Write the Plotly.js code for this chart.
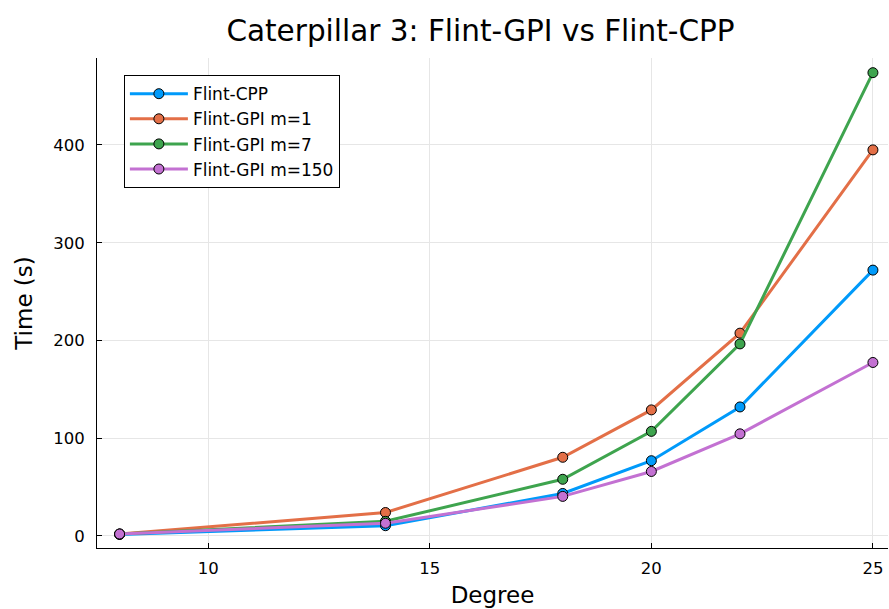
<!DOCTYPE html>
<html>
<head>
<meta charset="utf-8">
<script src="https://cdn.plot.ly/plotly-3.0.1.min.js"></script>
<style>html,body{margin:0;padding:0;background:#fff;}</style>
</head>
<body>
<div id="chart" style="width:889px;height:609px;"></div>
<script>
const degree = [8, 14, 18, 20, 22, 25];
const flintCPP = [1.5, 10.5, 43.5, 77, 132, 272];
const gpiM1 = [2, 24, 80.5, 129, 207.5, 395];
const gpiM7 = [2, 15, 58, 107, 196.5, 474];
const gpiM150 = [2, 13, 40.5, 66, 104.5, 177.5];
const seriesNames = ["Flint-CPP", "Flint-GPI m=1", "Flint-GPI m=7", "Flint-GPI m=150"];
const seriesColors = ["#009AFA", "#E36F47", "#3EA44E", "#C371D2"];
const seriesValues = [flintCPP, gpiM1, gpiM7, gpiM150];
const xTicks = [10, 15, 20, 25];
const yTicks = [0, 100, 200, 300, 400];

const font = "DejaVu Sans";
const traces = seriesValues.map((vals, i) => ({
  x: degree, y: vals, name: seriesNames[i], type: "scatter", mode: "lines+markers",
  line: {color: seriesColors[i], width: 3},
  marker: {color: seriesColors[i], size: 10, line: {color: "#000", width: 1}}
}));

const layout = {
  width: 889, height: 609,
  margin: {l: 97, r: 1, t: 58, b: 61},
  paper_bgcolor: "#fff", plot_bgcolor: "#fff",
  font: {family: font, color: "#000"},
  title: {text: "Caterpillar 3: Flint-GPI vs Flint-CPP", font: {size: 29.5, family: font}, x: 0.5405, xanchor: "center", y: 0.949, yanchor: "middle"},
  xaxis: {
    title: {text: "Degree", font: {size: 23, family: font}, standoff: 10},
    range: [7.49, 25.34], tickvals: xTicks, ticktext: xTicks.map(String),
    ticks: "inside", ticklen: 5, tickcolor: "#000", tickfont: {size: 16.5, family: font},
    ticklabelstandoff: 5,
    showgrid: true, gridcolor: "#e6e6e6", gridwidth: 1,
    showline: true, linecolor: "#000", linewidth: 1, mirror: false, zeroline: false
  },
  yaxis: {
    title: {text: "Time (s)", font: {size: 23, family: font}, standoff: 14},
    range: [-12.3, 489], tickvals: yTicks, ticktext: yTicks.map(String),
    ticks: "inside", ticklen: 5, tickcolor: "#000", tickfont: {size: 16.5, family: font},
    ticklabelstandoff: 8,
    showgrid: true, gridcolor: "#e6e6e6", gridwidth: 1,
    showline: true, linecolor: "#000", linewidth: 1, mirror: false, zeroline: false
  },
  legend: {
    x: 0.034, y: 0.965, xanchor: "left", yanchor: "top",
    bordercolor: "#000", borderwidth: 1, bgcolor: "#fff",
    font: {size: 17, family: font}, tracegroupgap: 0, itemwidth: 58
  },
  showlegend: true
};

Plotly.newPlot("chart", traces, layout, {displayModeBar: false, staticPlot: true});
</script>
</body>
</html>
